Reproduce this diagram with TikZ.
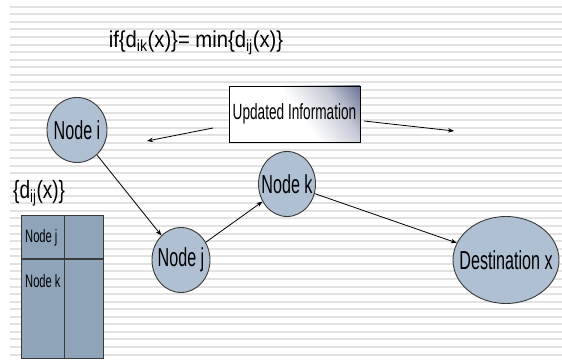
\documentclass[tikz,border=0pt]{standalone}
\usepackage{fontspec}
\setmainfont{Liberation Sans}[FakeStretch=0.62]
\newfontfamily\widerfont{Liberation Sans}[FakeStretch=0.88]
\newfontfamily\midfont{Liberation Sans}[FakeStretch=0.76]
\usetikzlibrary{shapes.geometric,arrows.meta}
\definecolor{nodefill}{HTML}{AFC0D2}
\definecolor{tablefill}{HTML}{8FA3B9}
\definecolor{edgegray}{HTML}{3A3A3A}
\definecolor{stripegray}{HTML}{E2E2E2}
\definecolor{infonavy}{HTML}{1C2B5C}
\pgfdeclarehorizontalshading{infoshade}{100bp}{color(0bp)=(white); color(52bp)=(white); color(70bp)=(infonavy!25); color(86bp)=(infonavy!70); color(100bp)=(infonavy)}
\tikzset{
  netnode/.style={ellipse, draw=edgegray, line width=0.9pt, fill=nodefill, inner sep=0pt, font=\fontsize{26}{26}\selectfont},
  infobox/.style={rectangle, draw=black, line width=0.9pt, shading=infoshade, shading angle=35, inner sep=0pt, minimum width=131pt, minimum height=56pt, font=\fontsize{22}{22}\selectfont},
  tablebox/.style={rectangle, draw=edgegray, line width=1pt, fill=tablefill, inner sep=0pt},
  celltext/.style={anchor=west, inner sep=0pt, font=\fontsize{18}{18}\selectfont},
  link/.style={draw=black, line width=0.8pt, -{Stealth[length=6pt,width=4.5pt]}},
  stripe/.style={draw=stripegray, line width=2pt}
}
\begin{document}
\begin{tikzpicture}[x=1pt,y=-1pt]
\useasboundingbox (0,0) rectangle (562,363);
\fill[white] (0,0) rectangle (562,363);
% ruled background
\foreach \i in {0,...,46}
  \draw[stripe] (10,{6.8+7.56*\i}) -- (562,{6.8+7.56*\i});

% heading rule
\node[inner sep=0pt, font=\widerfont\fontsize{23}{23}\selectfont] (rule) at (196,43)
  {if\{d\textsubscript{ik}(x)\}= min\{d\textsubscript{ij}(x)\}};

% network nodes
\node[netnode, minimum width=60pt, minimum height=65pt] (ni) at (77,130) {\makebox[0pt]{Node i}};
\node[netnode, minimum width=58pt, minimum height=65pt] (nj) at (181,260) {\makebox[0pt]{Node j}};
\node[netnode, minimum width=57pt, minimum height=65pt] (nk) at (287,184) {\makebox[0pt]{Node k}};
\node[netnode, minimum width=106pt, minimum height=87pt] (dx) at (506,260) {\makebox[0pt]{Destination x}};

% broadcast box and its arrows
\node[infobox] (info) at (294.5,114) {\makebox[0pt]{Updated Information}};
\coordinate (infoL) at (213,128);
\coordinate (infoLend) at (147,141);
\coordinate (infoR) at (364,121);
\coordinate (infoRend) at (454,131);
\draw[link] (infoL) -- (infoLend);
\draw[link] (infoR) -- (infoRend);

% routing path
\draw[link] (ni) -- (nj);
\draw[link] (nj) -- (nk);
\draw[link] (nk) -- (dx);

% distance table
\node[inner sep=0pt, anchor=west, font=\midfont\fontsize{25}{25}\selectfont] (dlabel) at (13,193)
  {\{d\textsubscript{ij}(x)\}};
\node[tablebox, anchor=north west, minimum width=82pt, minimum height=143pt] (tbl) at (21,215) {};
\coordinate (colT) at (64,215);
\coordinate (colB) at (64,358);
\coordinate (rowL) at (21,259);
\coordinate (rowR) at (103,259);
\draw[edgegray, line width=1pt] (colT) -- (colB);
\draw[edgegray, line width=1.6pt] (rowL) -- (rowR);
\node[celltext] (cj) at (25,238) {Node j};
\node[celltext] (ck) at (25,281) {Node k};
\end{tikzpicture}
\end{document}
